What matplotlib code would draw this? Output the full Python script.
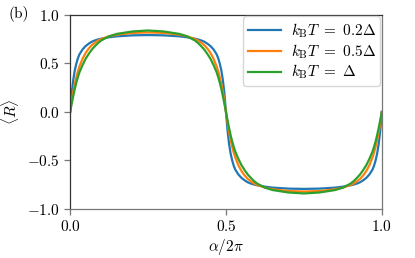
import matplotlib
matplotlib.use("Agg")
import matplotlib.pyplot as plt

plt.rcParams['font.family'] = 'serif'
plt.rcParams['font.serif'] = ['cmr10']
plt.rcParams['mathtext.fontset'] = 'cm'
plt.rcParams['axes.formatter.use_mathtext'] = True
plt.rcParams['font.size'] = 11

# alpha/2pi, one full period
x = [0.0, 0.005, 0.01, 0.015, 0.02, 0.025, 0.03, 0.04, 0.05, 0.06, 0.07, 0.08, 0.09, 0.10, 0.125, 0.15, 0.2,
     0.25,
     0.3, 0.35, 0.375, 0.4, 0.41, 0.42, 0.43, 0.44, 0.45, 0.46, 0.47, 0.475, 0.48, 0.485, 0.49, 0.495,
     0.5,
     0.505, 0.51, 0.515, 0.52, 0.525, 0.53, 0.54, 0.55, 0.56, 0.57, 0.58, 0.59, 0.60, 0.625, 0.65, 0.7,
     0.75,
     0.8, 0.85, 0.875, 0.9, 0.91, 0.92, 0.93, 0.94, 0.95, 0.96, 0.97, 0.975, 0.98, 0.985, 0.99, 0.995,
     1.0]

# k_B T = 0.2 Delta
R_02 = [0.0, .19, .33, .43, .50, .555, .595, .645, .68, .705, .725, .738, .748, .756, .77, .78, .79,
        .793,
        .79, .78, .77, .756, .748, .738, .725, .705, .68, .645, .595, .555, .50, .43, .33, .19,
        0.0,
        -.19, -.33, -.43, -.50, -.555, -.595, -.645, -.68, -.705, -.725, -.738, -.748, -.756, -.77, -.78, -.79,
        -.793,
        -.79, -.78, -.77, -.756, -.748, -.738, -.725, -.705, -.68, -.645, -.595, -.555, -.50, -.43, -.33, -.19,
        0.0]

# k_B T = 0.5 Delta
R_05 = [0.0, .11, .21, .29, .36, .42, .47, .55, .61, .655, .69, .715, .737, .752, .78, .797, .815,
        .82,
        .815, .797, .78, .752, .737, .715, .69, .655, .61, .55, .47, .42, .36, .29, .21, .11,
        0.0,
        -.11, -.21, -.29, -.36, -.42, -.47, -.55, -.61, -.655, -.69, -.715, -.737, -.752, -.78, -.797, -.815,
        -.82,
        -.815, -.797, -.78, -.752, -.737, -.715, -.69, -.655, -.61, -.55, -.47, -.42, -.36, -.29, -.21, -.11,
        0.0]

# k_B T = Delta
R_1 = [0.0, .085, .165, .24, .305, .36, .41, .485, .55, .60, .645, .68, .712, .738, .78, .805, .83,
       .84,
       .83, .805, .78, .738, .712, .68, .645, .60, .55, .485, .41, .36, .305, .24, .165, .085,
       0.0,
       -.085, -.165, -.24, -.305, -.36, -.41, -.485, -.55, -.60, -.645, -.68, -.712, -.738, -.78, -.805, -.83,
       -.84,
       -.83, -.805, -.78, -.738, -.712, -.68, -.645, -.60, -.55, -.485, -.41, -.36, -.305, -.24, -.165, -.085,
       0.0]

labels = [r'$k_\mathrm{B}T\ =\ 0.2\Delta$', r'$k_\mathrm{B}T\ =\ 0.5\Delta$', r'$k_\mathrm{B}T\ =\ \Delta$']

fig = plt.figure(figsize=(4.15, 2.58), dpi=100)
ax = fig.add_axes([0.169, 0.19, 0.751, 0.752])

ax.plot(x, R_02, color='tab:blue', lw=1.6, label=labels[0])
ax.plot(x, R_05, color='tab:orange', lw=1.6, label=labels[1])
ax.plot(x, R_1, color='tab:green', lw=1.6, label=labels[2])

ax.set_xlim(0, 1)
ax.set_ylim(-1, 1)
ax.set_xticks([0, 0.5, 1])
ax.set_yticks([-1, -0.5, 0, 0.5, 1])
ax.set_xlabel(r'$\alpha/2\pi$', labelpad=2)
ax.set_ylabel(r'$\langle R \rangle$', labelpad=4)
for s in ax.spines.values():
    s.set_color('#333333')
    s.set_linewidth(0.9)
ax.spines['bottom'].set_color('#777777')
ax.spines['right'].set_color('#777777')
ax.tick_params(color='#777777', length=4, width=0.9)

ax.legend(loc='upper right', fontsize=11, borderaxespad=0.1, handlelength=2.2,
          labelspacing=0.15, borderpad=0.3, handletextpad=0.6, fancybox=True)

fig.text(0.02, 0.93, '(b)', fontsize=11)

fig.savefig('out.png', dpi=100)
